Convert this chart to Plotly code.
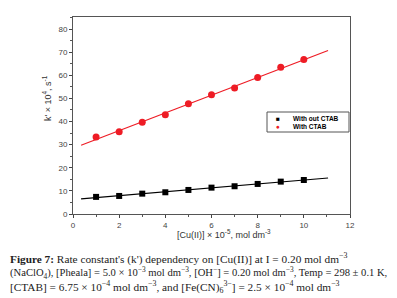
import numpy as np
import plotly.graph_objects as go

cu = [1, 2, 3, 4, 5, 6, 7, 8, 9, 10]
k_without = [7.4, 7.8, 8.8, 9.4, 10.4, 11.4, 12.0, 13.0, 14.0, 14.7]
k_with = [33.3, 35.6, 39.7, 42.9, 47.7, 51.6, 54.5, 59.0, 63.5, 66.8]
series_names = ["With out CTAB", "With CTAB"]
fit_range = [0.35, 11.05]
x_ticks = [0, 2, 4, 6, 8, 10, 12]
y_ticks = [0, 10, 20, 30, 40, 50, 60, 70, 80]

# plot-area geometry in pixels (for paper-coordinate placement of annotations)
L, R, T, B = 65, 342, 9, 206
def px(x):
    return (x - L) / (R - L)
def py(y):
    return (B - y) / (B - T)

def fit(xs, ys):
    m, b = np.polyfit(xs, ys, 1)
    xf = np.array(fit_range)
    return xf, m * xf + b

RED = "#ee1c25"
fig = go.Figure()
for ys, col in [(k_without, "black"), (k_with, RED)]:
    xf, yf = fit(cu, ys)
    fig.add_trace(go.Scatter(x=xf, y=yf, mode="lines", line=dict(color=col, width=1.2),
                             showlegend=False, hoverinfo="skip"))
fig.add_trace(go.Scatter(x=cu, y=k_without, mode="markers", name=series_names[0], showlegend=False,
                         marker=dict(symbol="square", size=6, color="black")))
fig.add_trace(go.Scatter(x=cu, y=k_with, mode="markers", name=series_names[1], showlegend=False,
                         marker=dict(symbol="circle", size=7, color=RED)))

axis_font = dict(family="Liberation Sans, Arial", size=8, color="#444")
fig.update_xaxes(range=[0, 12], tickvals=x_ticks, ticks="outside", ticklen=3,
                 showgrid=False, zeroline=False, showline=True, linecolor="#555",
                 linewidth=1, mirror=True, tickfont=axis_font,
                 minor=dict(dtick=1, ticks="outside", ticklen=2, tickcolor="#555"))
fig.update_yaxes(range=[0, 85.2], tickvals=y_ticks, ticks="outside", ticklen=3,
                 showgrid=False, zeroline=False, showline=True, linecolor="#555",
                 linewidth=1, mirror=True, tickfont=axis_font,
                 minor=dict(dtick=5, ticks="outside", ticklen=2, tickcolor="#555"))

title_font = dict(family="Liberation Sans, Arial", size=9, color="#333")
fig.add_annotation(text="[Cu(II)] × 10<sup>-5</sup>, mol dm<sup>-3</sup>", xref="paper", yref="paper",
                   x=px(216), y=py(226), xanchor="center", yanchor="middle", showarrow=False,
                   font=title_font)
fig.add_annotation(text="k' × 10<sup>4</sup>, s<sup>-1</sup>", xref="paper", yref="paper",
                   x=px(39), y=py(90), xanchor="center", yanchor="middle", showarrow=False,
                   textangle=-90, font=title_font)

# legend box
fig.add_shape(type="rect", xref="paper", yref="paper", x0=px(259), x1=px(341), y0=py(104), y1=py(124),
              line=dict(color="#555", width=1), fillcolor="white", layer="above")
leg_font = dict(family="Liberation Sans, Arial", size=6.5, color="black")
for i, (sym, col, name) in enumerate([("■", "black", series_names[0]), ("●", RED, series_names[1])]):
    yy = py(110 + i * 8.5)
    fig.add_annotation(text=sym, xref="paper", yref="paper", x=px(270), y=yy, xanchor="center",
                       yanchor="middle", showarrow=False, borderpad=0, font=dict(size=6.5, color=col))
    fig.add_annotation(text="<b>" + name + "</b>", xref="paper", yref="paper", x=px(284), y=yy,
                       xanchor="left", yanchor="middle", showarrow=False, borderpad=0, font=leg_font)

cap_family = "Liberation Serif, Times New Roman"
captions = [
    ("<b>Figure 7:</b> Rate constant's (k') dependency on [Cu(II)] at I = 0.20 mol dm<sup>−3</sup>", 11.3),
    ("(NaClO<sub>4</sub>), [Pheala] = 5.0 × 10<sup>−3</sup> mol dm<sup>−3</sup>, [OH<sup>−</sup>] = 0.20 mol dm<sup>−3</sup>, Temp = 298 ± 0.1 K,", 10.6),
    ("[CTAB] = 6.75 × 10<sup>−4</sup> mol dm<sup>−3</sup>, and [Fe(CN)<sub>6</sub><sup>3−</sup>] = 2.5 × 10<sup>−4</sup> mol dm<sup>−3</sup>", 11.3),
]
for i, (t, sz) in enumerate(captions):
    fig.add_annotation(text=t, xref="paper", yref="paper", x=px(0), y=py(251 + i * 14),
                       xanchor="left", yanchor="middle", showarrow=False,
                       font=dict(family=cap_family, size=sz, color="#222"), align="left")

fig.update_layout(
    width=397, height=298, margin=dict(l=L, r=397 - R, t=T, b=298 - B),
    plot_bgcolor="white", paper_bgcolor="white", showlegend=False,
)
fig.write_html("out.html")
